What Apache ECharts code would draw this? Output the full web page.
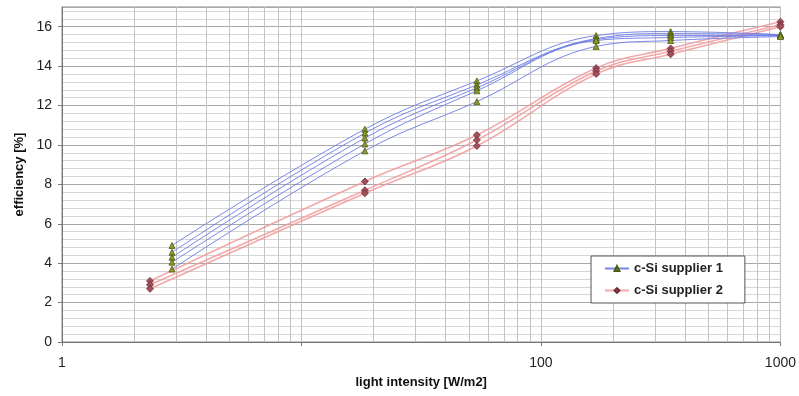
<!DOCTYPE html>
<html>
<head>
<meta charset="utf-8">
<script src="https://cdn.jsdelivr.net/npm/echarts@6/dist/echarts.min.js"></script>
<style>
html,body{margin:0;padding:0;background:#fff;}
#chart{width:799px;height:396px;}
</style>
</head>
<body>
<div id="chart"></div>
<script>
// light intensity (W/m2) at which each supplier was measured
var xSupplier1 = [2.88, 18.4, 54, 170, 348, 1000];
var xSupplier2 = [2.33, 18.4, 54, 170, 348, 1000];

// efficiency [%] – c-Si supplier 1 (five modules)
var s1a = [4.9, 10.8, 13.25, 15.55, 15.75, 15.6];
var s1b = [4.55, 10.6, 13.05, 15.4, 15.65, 15.6];
var s1c = [4.3, 10.35, 12.9, 15.35, 15.55, 15.55];
var s1d = [4.05, 10.05, 12.75, 15.3, 15.45, 15.55];
var s1e = [3.7, 9.7, 12.2, 15.0, 15.3, 15.5];

// efficiency [%] – c-Si supplier 2 (three modules)
var s2a = [3.1, 8.15, 10.5, 13.9, 14.9, 16.25];
var s2b = [2.9, 7.7, 10.25, 13.75, 14.75, 16.1];
var s2c = [2.7, 7.55, 9.95, 13.6, 14.6, 16.0];

// minor vertical grid positions of the log axis
var minorX = [2,3,4,5,6,7,8,9,20,30,40,50,60,70,80,90,200,300,400,500,600,700,800,900];
var xTickLabels = ['1', '100', '1000'];

var FONT = 'Liberation Sans, Arial, sans-serif';
var supplier1Names = 'c-Si supplier 1';
var supplier2Names = 'c-Si supplier 2';

function pairs(xs, ys) { return xs.map(function (x, i) { return [x, ys[i]]; }); }

function s1(ys) {
  return {
    type: 'line', name: supplier1Names, data: pairs(xSupplier1, ys),
    smooth: 0.4, symbol: 'triangle', symbolSize: 6,
    lineStyle: { color: '#6a7ae6', width: 1, opacity: 0.9 },
    itemStyle: { color: '#8c9a2c', borderColor: '#4d5a12', borderWidth: 0.8 },
    z: 3
  };
}
function s2(ys) {
  return {
    type: 'line', name: supplier2Names, data: pairs(xSupplier2, ys),
    smooth: 0.4, symbol: 'diamond', symbolSize: 7,
    lineStyle: { color: '#f19a9a', width: 1.6, opacity: 0.85 },
    itemStyle: { color: '#a2505e', borderColor: '#6e2a36', borderWidth: 0.8 },
    z: 2
  };
}

var series = [s1(s1a), s1(s1b), s1(s1c), s1(s1d), s1(s1e), s2(s2a), s2(s2b), s2(s2c)];
series.push({
  type: 'line', data: [], silent: true, legendHoverLink: false,
  markLine: {
    silent: true, symbol: 'none', z: 1, animation: false,
    label: { show: false },
    lineStyle: { color: '#c4c4c4', width: 1, type: 'solid' },
    data: minorX.map(function (v) { return { xAxis: v }; })
  }
});

var chart = echarts.init(document.getElementById('chart'), null, { renderer: 'canvas' });
chart.setOption({
  animation: false,
  backgroundColor: '#fff',
  textStyle: { fontFamily: FONT },
  grid: { left: 62, right: 14, top: 7, bottom: 54, show: true, borderColor: '#8a8a8a', borderWidth: 1, containLabel: false },
  legend: {
    data: [supplier1Names, supplier2Names],
    orient: 'vertical', left: 591, top: 256,
    padding: [6, 22, 6, 13], itemGap: 9, itemWidth: 24, itemHeight: 6,
    backgroundColor: '#fff', borderColor: '#555', borderWidth: 1, borderRadius: 0,
    textStyle: { fontFamily: FONT, fontSize: 13, fontWeight: 'bold', color: '#222', padding: [2, 0, 2, 0] }
  },
  xAxis: {
    type: 'log', logBase: 10, min: 1, max: 1000,
    name: 'light intensity [W/m2]', nameLocation: 'middle', nameGap: 34,
    nameTextStyle: { fontFamily: FONT, fontSize: 13, fontWeight: 'bold', color: '#111' },
    axisLine: { show: true, lineStyle: { color: '#777', width: 1 } },
    axisTick: { show: true, length: 4, lineStyle: { color: '#777' } },
    axisLabel: {
      margin: 14, fontSize: 14, color: '#222', fontFamily: FONT,
      formatter: function (v) { var s = String(Math.round(v)); return xTickLabels.indexOf(s) >= 0 ? s : ''; }
    },
    splitLine: { show: true, lineStyle: { color: '#c4c4c4', width: 1 } }
  },
  yAxis: [{
    type: 'value', min: 0, max: 17, interval: 0.4,
    axisLine: { show: false }, axisTick: { show: false }, axisLabel: { show: false },
    splitLine: { show: true, lineStyle: { color: '#d6d6d6', width: 1 } }
  }, {
    type: 'value', min: 0, max: 17, interval: 2, position: 'left',
    name: 'efficiency [%]', nameLocation: 'middle', nameGap: 36, nameRotate: 90,
    nameTextStyle: { fontFamily: FONT, fontSize: 13, fontWeight: 'bold', color: '#111' },
    axisLine: { show: true, lineStyle: { color: '#777', width: 1 } },
    axisTick: { show: true, length: 4, lineStyle: { color: '#777' } },
    axisLabel: { margin: 10, fontSize: 14, color: '#222', fontFamily: FONT, showMaxLabel: false },
    splitLine: { show: true, lineStyle: { color: '#a8a8a8', width: 1 } }
  }],
  series: series
});
</script>
</body>
</html>
